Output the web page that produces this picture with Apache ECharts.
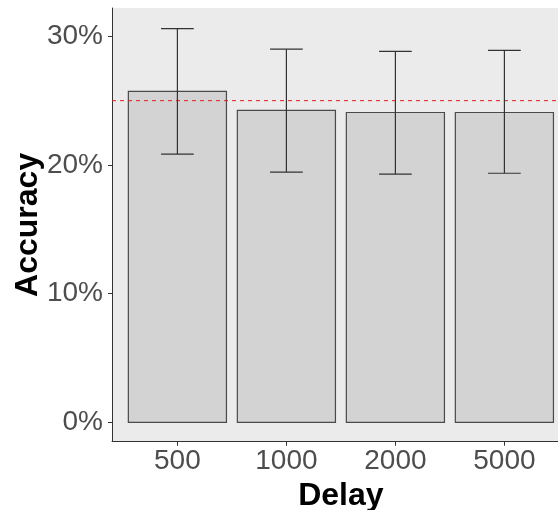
<!DOCTYPE html>
<html>
<head>
<meta charset="utf-8">
<script src="https://cdn.jsdelivr.net/npm/echarts@6/dist/echarts.min.js"></script>
<style>
html,body{margin:0;padding:0;background:#fff;}
#c{width:558px;height:510px;}
</style>
</head>
<body>
<div id="c"></div>
<script>
var categories = ['500', '1000', '2000', '5000'];
var accuracy = [25.72, 24.25, 24.08, 24.08];
var errLow = [20.84, 19.44, 19.29, 19.36];
var errHigh = [30.6, 29.0, 28.83, 28.9];
var chanceLevel = 25;
var yTicks = [0, 10, 20, 30];
var xRange = [0.4, 4.6];

var data = categories.map(function (c, i) {
  return [i + 1, accuracy[i], errLow[i], errHigh[i]];
});

var FONT = 'Liberation Sans, Arial, sans-serif';
var chart = echarts.init(document.getElementById('c'), null, {renderer: 'canvas'});

chart.setOption({
  animation: false,
  backgroundColor: '#ffffff',
  grid: {
    left: 112, top: 8, bottom: 68.3, right: -11.8,
    show: true, backgroundColor: '#EBEBEB', borderWidth: 0,
    containLabel: false,
    outerBoundsMode: 'none'
  },
  xAxis: {
    type: 'value', min: xRange[0], max: xRange[1],
    name: 'Delay', nameLocation: 'middle', nameGap: 38, nameMoveOverlap: false,
    nameTextStyle: {fontFamily: FONT, fontSize: 32, fontWeight: 'bold', color: '#000'},
    axisLine: {show: true, onZero: false, lineStyle: {color: '#333', width: 1}},
    axisTick: {show: true, length: 4, lineStyle: {color: '#333'}, customValues: [1, 2, 3, 4]},
    axisLabel: {
      customValues: [1, 2, 3, 4],
      fontFamily: FONT, fontSize: 28, color: '#4D4D4D', margin: 6,
      formatter: function (v) { return categories[Math.round(v) - 1]; }
    },
    splitLine: {show: false}
  },
  yAxis: {
    type: 'value', min: -1.5, max: 32.2,
    name: 'Accuracy', nameLocation: 'middle', nameGap: 68, nameMoveOverlap: false,
    nameTextStyle: {fontFamily: FONT, fontSize: 32, fontWeight: 'bold', color: '#000'},
    axisLine: {show: true, onZero: false, lineStyle: {color: '#333', width: 1}},
    axisTick: {show: true, length: 4, lineStyle: {color: '#333'}, customValues: yTicks},
    axisLabel: {
      customValues: yTicks,
      fontFamily: FONT, fontSize: 28, color: '#4D4D4D', margin: 9,
      formatter: function (v) { return v + '%'; }
    },
    splitLine: {show: false}
  },
  series: [
    {
      type: 'custom',
      clip: false,
      data: data,
      encode: {x: 0, y: 1},
      renderItem: function (params, api) {
        var x = api.value(0), y = api.value(1);
        var p0 = api.coord([x - 0.45, 0]);
        var p1 = api.coord([x + 0.45, y]);
        return {
          type: 'rect',
          shape: {x: p0[0], y: p1[1], width: p1[0] - p0[0], height: p0[1] - p1[1]},
          style: {fill: '#D3D3D3', stroke: '#4a4a4a', lineWidth: 1.2}
        };
      },
      z: 2
    },
    {
      type: 'line',
      data: [[xRange[0], chanceLevel], [xRange[1], chanceLevel]],
      symbol: 'none',
      silent: true,
      lineStyle: {color: '#E41A1C', type: [4, 4], width: 1},
      z: 4
    },
    {
      type: 'custom',
      clip: false,
      data: data,
      encode: {x: 0, y: [2, 3]},
      renderItem: function (params, api) {
        var x = api.value(0), lo = api.value(2), hi = api.value(3);
        var a = api.coord([x, lo]), b = api.coord([x, hi]);
        var cl = api.coord([x - 0.15, lo]), cr = api.coord([x + 0.15, hi]);
        var st = {stroke: '#333', lineWidth: 1.2};
        return {
          type: 'group',
          children: [
            {type: 'line', shape: {x1: a[0], y1: a[1], x2: b[0], y2: b[1]}, style: st},
            {type: 'line', shape: {x1: cl[0], y1: a[1], x2: cr[0], y2: a[1]}, style: st},
            {type: 'line', shape: {x1: cl[0], y1: b[1], x2: cr[0], y2: b[1]}, style: st}
          ]
        };
      },
      z: 5
    }
  ]
});
</script>
</body>
</html>
